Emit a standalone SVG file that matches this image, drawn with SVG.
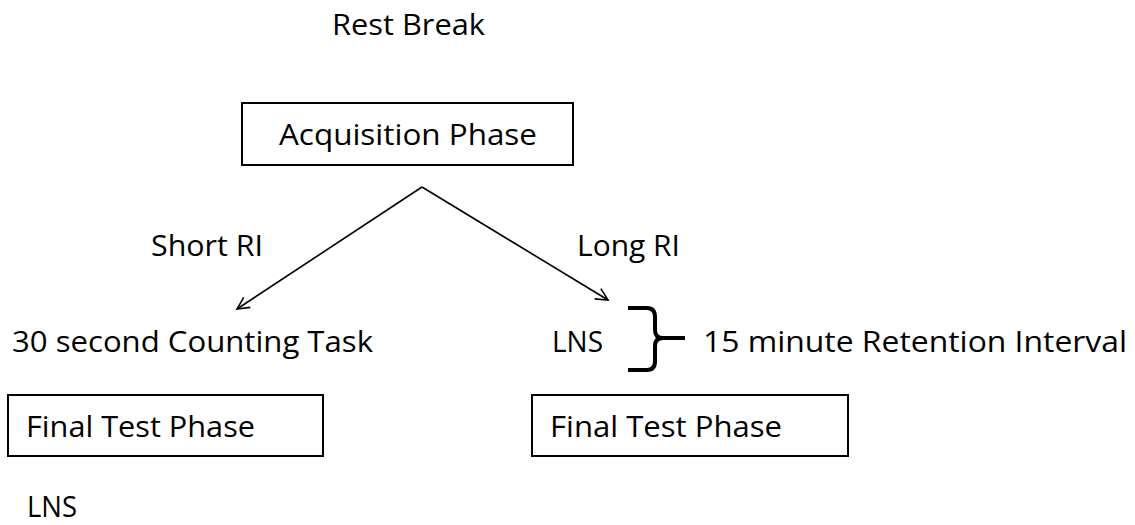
<svg xmlns="http://www.w3.org/2000/svg" width="1135" height="525" viewBox="0 0 1135 525">
<style>
text{font-family:"Open Sans","Liberation Sans",sans-serif;font-size:30px;fill:#000}
.box{fill:#fff;stroke:#000;stroke-width:2}
.conn{fill:none;stroke:#000;stroke-width:1.6}
</style>
<defs>
<marker id="arr" markerWidth="16" markerHeight="16" refX="14" refY="8" orient="auto" markerUnits="userSpaceOnUse">
<path d="M2,2 L14,8 L2,14" fill="none" stroke="#000" stroke-width="1.6"/>
</marker>
</defs>
<rect width="1135" height="525" fill="#fff"/>
<g id="rest-break"><text x="332" y="35" textLength="153" lengthAdjust="spacingAndGlyphs">Rest Break</text></g>
<g id="acquisition">
<rect class="box" x="242" y="103" width="331" height="62"/>
<text x="279" y="145" textLength="258" lengthAdjust="spacingAndGlyphs">Acquisition Phase</text>
</g>
<g id="connectors">
<line class="conn" x1="422" y1="187" x2="237" y2="309" marker-end="url(#arr)"/>
<line class="conn" x1="422" y1="187" x2="608" y2="300" marker-end="url(#arr)"/>
<path d="M628,308 L647,308 Q655,308 655,317 L655,330 Q655,338 663,338 Q655,338 655,346 L655,361 Q655,370 647,370 L628,370" fill="none" stroke="#000" stroke-width="4" stroke-linejoin="round"/>
<line x1="660" y1="338" x2="685" y2="338" stroke="#000" stroke-width="4"/>
</g>
<g id="short-ri"><text x="151" y="256" textLength="112" lengthAdjust="spacingAndGlyphs">Short RI</text></g>
<g id="long-ri"><text x="577" y="256" textLength="103" lengthAdjust="spacingAndGlyphs">Long RI</text></g>
<g id="counting"><text x="12" y="352" textLength="361" lengthAdjust="spacingAndGlyphs">30 second Counting Task</text></g>
<g id="lns-right"><text x="552" y="352" textLength="51" lengthAdjust="spacingAndGlyphs">LNS</text></g>
<g id="retention"><text x="703" y="352" textLength="424" lengthAdjust="spacingAndGlyphs">15 minute Retention Interval</text></g>
<g id="final-left">
<rect class="box" x="8" y="395" width="315" height="61"/>
<text x="26" y="437" textLength="229" lengthAdjust="spacingAndGlyphs">Final Test Phase</text>
</g>
<g id="final-right">
<rect class="box" x="532" y="395" width="316" height="61"/>
<text x="550" y="437" textLength="232" lengthAdjust="spacingAndGlyphs">Final Test Phase</text>
</g>
<g id="lns-bottom"><text x="27" y="517" textLength="50" lengthAdjust="spacingAndGlyphs">LNS</text></g>
</svg>
